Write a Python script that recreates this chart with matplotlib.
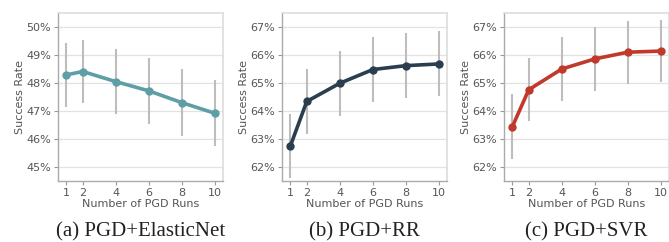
import matplotlib
matplotlib.use("Agg")
import matplotlib.pyplot as plt
from matplotlib.ticker import FuncFormatter

runs = [1, 2, 4, 6, 8, 10]

elasticnet_mean = [48.29, 48.41, 48.05, 47.72, 47.30, 46.92]
elasticnet_err = [1.13, 1.14, 1.17, 1.17, 1.20, 1.17]

rr_mean = [62.74, 64.34, 64.99, 65.48, 65.62, 65.68]
rr_err = [1.15, 1.16, 1.16, 1.15, 1.16, 1.16]

svr_mean = [63.43, 64.76, 65.50, 65.86, 66.10, 66.14]
svr_err = [1.16, 1.13, 1.13, 1.13, 1.12, 1.11]

yticks_a = [45, 46, 47, 48, 49, 50]
yticks_bc = [62, 63, 64, 65, 66, 67]

captions = ["(a) PGD+ElasticNet", "(b) PGD+RR", "(c) PGD+SVR"]
colors = ["#5e9ea6", "#2b3e4f", "#c0392b"]

W, H = 669, 242
fig = plt.figure(figsize=(W / 100, H / 100), dpi=100)

panels = [
    (elasticnet_mean, elasticnet_err, yticks_a, (44.5, 50.5)),
    (rr_mean, rr_err, yticks_bc, (61.5, 67.5)),
    (svr_mean, svr_err, yticks_bc, (61.5, 67.5)),
]
lefts = [58, 282, 504]
ax_w, ax_top, ax_bot = 165, 13, 181

for i, (mean, err, yt, yl) in enumerate(panels):
    ax = fig.add_axes([lefts[i] / W, 1 - ax_bot / H, ax_w / W, (ax_bot - ax_top) / H])
    ax.errorbar(runs, mean, yerr=err, fmt='none', ecolor='#bdbdbd', elinewidth=1.5,
                capsize=0, zorder=2)
    ax.plot(runs, mean, color=colors[i], lw=2.6, marker='o', ms=5, zorder=3)
    ax.set_xlim(0.5, 10.5)
    ax.set_ylim(*yl)
    ax.set_xticks(runs)
    ax.set_yticks(yt)
    ax.yaxis.set_major_formatter(FuncFormatter(lambda v, p: f"{v:.0f}%"))
    ax.grid(axis='y', color='#e2e2e2', lw=0.9)
    ax.set_axisbelow(True)
    for s in ['top', 'right']:
        ax.spines[s].set_color('#dddddd')
        ax.spines[s].set_linewidth(1.2)
    for s in ['left', 'bottom']:
        ax.spines[s].set_color('#aaaaaa')
        ax.spines[s].set_linewidth(1.0)
    ax.tick_params(axis='both', labelsize=8, colors='#555555', length=3, width=0.8,
                   color='#999999', pad=2)
    ax.set_xlabel("Number of PGD Runs", fontsize=8, color='#555555', labelpad=1)
    ax.set_ylabel("Success Rate", fontsize=8, color='#555555', labelpad=1)
    fig.text((lefts[i] + ax_w / 2) / W, 1 - 232 / H, captions[i], ha='center', va='center',
             fontsize=15, family='Liberation Serif', color='#222222')

fig.savefig("out.png", dpi=100)
